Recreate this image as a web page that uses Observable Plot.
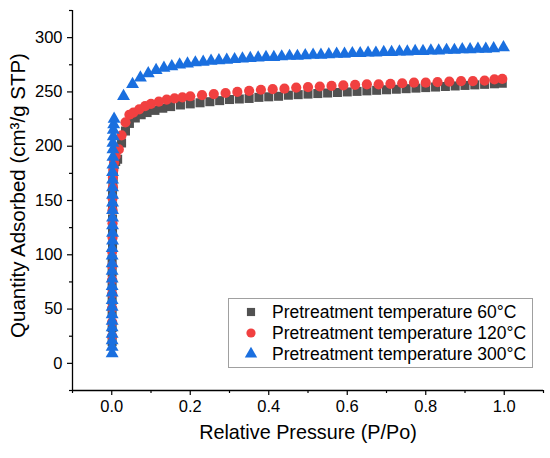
<!DOCTYPE html>
<html><head><meta charset="utf-8">
<script src="https://cdn.jsdelivr.net/npm/d3@7"></script>
<script src="https://cdn.jsdelivr.net/npm/@observablehq/plot@0.6"></script>
<style>body{margin:0;background:#fff} #chart{width:550px;height:458px}</style>
</head><body><div id="chart"></div>
<script>
const seriesNames = ["Pretreatment temperature 60°C","Pretreatment temperature 120°C","Pretreatment temperature 300°C"];
const seriesColors = ["#515151","#F14040","#1A6FDF"];
const seriesSymbols = ["square","circle","triangle"];

// 60°C (squares)
const x60 = [0.001,0.001,0.001,0.001,0.001,0.001,0.001,0.002,0.002,0.002,0.002,0.002,0.003,0.003,0.004,0.006,0.01,
  0.015,0.025,0.035,0.045,0.06,0.075,0.09,0.11,0.13,0.15,0.175,0.2,0.225,0.25,0.275,0.3,0.325,0.35,0.375,0.4,0.425,0.45,0.475,0.5,
  0.525,0.55,0.575,0.6,0.625,0.65,0.675,0.7,0.725,0.75,0.775,0.8,0.825,0.85,0.875,0.9,0.925,0.95,0.975,0.995];
const y60 = [20,33,46,58,71,84,96,109,121,133,145,156,165,172,178,183,186,
  188,203,214,221,226,229,231,233,235,236.5,238,239,240,241,242,243,243.5,244,245,245.5,246,247,247.5,248,
  248.5,249,249.5,250,250.5,251,251.5,252,252.5,253,253.5,254,254.5,255,255.5,256,256.5,257,257.5,258];

// 120°C (circles)
const x120 = [0.001,0.001,0.001,0.001,0.001,0.001,0.001,0.002,0.002,0.002,0.002,0.003,0.003,0.004,0.006,0.01,
  0.018,0.025,0.035,0.045,0.055,0.07,0.085,0.1,0.12,0.14,0.16,0.18,0.2,0.23,0.26,0.29,0.32,0.35,0.38,0.41,0.44,0.47,0.5,
  0.53,0.56,0.59,0.62,0.65,0.68,0.71,0.74,0.77,0.8,0.83,0.86,0.89,0.92,0.95,0.975,0.995];
const y120 = [25,38,51,64,77,90,103,116,129,141,152,162,171,178,185,191,
  197,210,222,229,231,234,237,239,241,243,244,245,246,247,248,249,250,251,252,252.5,253,254,254.5,
  255,255.5,256,256.5,257,257,257.5,258,258.5,258.5,259,259.5,260,260,260.5,261.5,262];

// 300°C (triangles)
const x300 = [0.001,0.001,0.001,0.001,0.001,0.001,0.001,0.001,0.001,0.001,0.001,0.001,0.001,0.001,0.001,0.001,0.002,0.002,0.002,0.002,
  0.002,0.002,0.002,0.002,0.002,0.002,0.003,0.003,0.003,0.003,0.004,0.004,0.005,0.006,
  0.03,0.053,0.073,0.093,0.113,0.133,0.153,0.173,0.193,0.213,0.233,0.253,0.273,0.293,0.313,0.333,0.353,0.373,0.393,0.413,
  0.433,0.453,0.473,0.493,0.513,0.533,0.553,0.573,0.593,0.613,0.633,0.653,0.673,0.693,0.713,0.733,0.753,0.773,0.793,0.813,
  0.833,0.853,0.873,0.893,0.913,0.933,0.953,0.973,0.998];
const y300 = [9,15,21,27,33,39,45,52,58,65,71,78,85,92,99,106,113,120,127,134,
  141,148,155,162,169,176,183,190,197,203,209,215,220,225,
  246,257,263,267,270,272,273.5,275,276,277,277.5,278.5,279,279.5,280,280.5,281,281.5,282,282,
  282.5,283,283,283.5,284,284,284.5,285,285,285.5,285.5,286,286,286.5,286.5,287,287,287.5,287.5,288,
  288,288.5,288.5,289,289,289.5,289.5,290,291];

const xTicks = [0, 0.2, 0.4, 0.6, 0.8, 1.0];
const xMinor = [-0.1, 0.1, 0.3, 0.5, 0.7, 0.9, 1.1];
const yTicks = [0, 50, 100, 150, 200, 250, 300];
const yMinor = [-25, 25, 75, 125, 175, 225, 275, 325];

const series = [[x60,y60],[x120,y120],[x300,y300]];
const data = series.flatMap(([xs,ys], i) => xs.map((x,j) => ({x, y: ys[j], s: i})));

const font = "'Liberation Sans', Arial, sans-serif";
const chart = Plot.plot({
  width: 550, height: 458,
  marginLeft: 72, marginRight: 7, marginTop: 10, marginBottom: 68,
  style: {fontFamily: font, background: "#fff", color: "#000"},
  x: {domain: [-0.1, 1.1]},
  y: {domain: [-25, 325]},
  marks: [
    Plot.dot(data.filter(d => d.s === 0), {x: "x", y: "y", symbol: () => "square", r: 5.1, fill: seriesColors[0], stroke: "none"}),
    Plot.dot(data.filter(d => d.s === 1), {x: "x", y: "y", symbol: () => "circle", r: 5.1, fill: seriesColors[1], stroke: "none"}),
    Plot.dot(data.filter(d => d.s === 2), {x: "x", y: "y", symbol: () => "triangle", r: 4.8, fill: seriesColors[2], stroke: "none"}),
    Plot.ruleY([-25], {stroke: "#000", strokeWidth: 1.3}),
    Plot.ruleX([-0.1], {stroke: "#000", strokeWidth: 1.3}),
    Plot.axisX(xTicks, {tickSize: 5, tickPadding: 5, tickFormat: d3.format(".1f"), fontSize: 16.5, label: null, stroke: "#000", strokeWidth: 1.2}),
    Plot.axisX(xMinor, {tickSize: 3, tickFormat: () => "", label: null, stroke: "#000", strokeWidth: 1.2}),
    Plot.axisY(yTicks, {tickSize: 5, tickPadding: 5, fontSize: 16.5, label: null, stroke: "#000", strokeWidth: 1.2}),
    Plot.axisY(yMinor, {tickSize: 3, tickFormat: () => "", label: null, stroke: "#000", strokeWidth: 1.2}),
    Plot.text(["Relative Pressure (P/Po)"], {frameAnchor: "bottom", dy: 48, fontSize: 19.8, fill: "#000", textAnchor: "middle"}),
    Plot.text(["Quantity Adsorbed (cm³/g STP)"], {frameAnchor: "left", dx: -54, dy: -5, rotate: -90, fontSize: 20.5, fill: "#000", textAnchor: "middle"})
  ]
});

// legend inside plot area
const svg = d3.select(chart);
const lg = svg.append("g").attr("font-family", font).attr("text-anchor", "start");
lg.append("rect").attr("x", 228.5).attr("y", 298.5).attr("width", 304).attr("height", 69)
  .attr("fill", "#fff").attr("stroke", "#a0a0a0").attr("stroke-width", 1);
const rowY = [312, 333, 354];
const symMap = {square: d3.symbolSquare, circle: d3.symbolCircle, triangle: d3.symbolTriangle};
const rSizes = [4.6, 4.6, 4.6];
seriesNames.forEach((name, i) => {
  lg.append("path")
    .attr("d", d3.symbol(symMap[seriesSymbols[i]], rSizes[i] * rSizes[i] * Math.PI)())
    .attr("transform", `translate(251,${rowY[i]})`)
    .attr("fill", seriesColors[i]);
  lg.append("text").attr("x", 272).attr("y", rowY[i] + 6).attr("font-size", 17.5).attr("fill", "#000").attr("text-anchor", "start").text(name);
});

document.getElementById("chart").appendChild(chart);
</script>
</body></html>
